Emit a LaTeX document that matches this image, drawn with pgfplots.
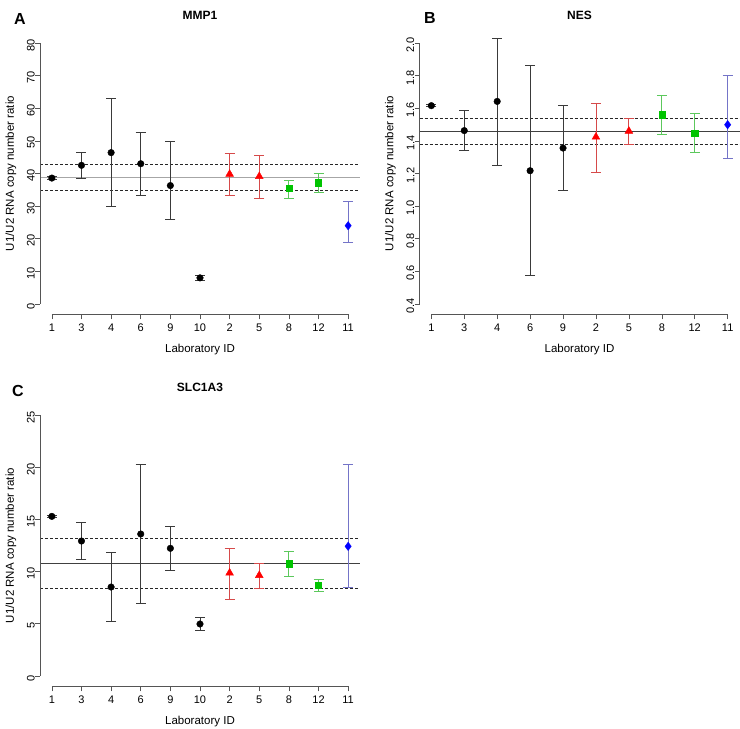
\documentclass[border=0pt]{standalone}
\usepackage{fontspec}
\setmainfont{Liberation Sans}
\usepackage{pgfplots}
\pgfplotsset{compat=1.18}
\definecolor{errblack}{HTML}{3A3A3A}
\definecolor{errred}{HTML}{D64A4A}
\definecolor{errgreen}{HTML}{5CC85C}
\definecolor{errblue}{HTML}{7474C8}
\definecolor{ptgreen}{HTML}{00C400}
\definecolor{axgray}{HTML}{555555}
\pgfplotsset{
  rstyle/.style={
    scale only axis, width=320pt, height=281.8pt,
    axis line style={draw=none},
    clip=false,
    tick align=outside, major tick length=5pt,
    xtick pos=left, ytick pos=left,
    tick style={color=axgray, line width=0.6pt},
    /pgf/number format/assume math mode=true,
    /pgf/number format/use period,
    ticklabel style={font=\fontsize{11}{13}\selectfont},
    yticklabel style={rotate=90, anchor=south, inner sep=0pt, xshift=-2pt},
    xticklabel style={anchor=north, inner sep=0pt, yshift=-4pt},
    every axis y label/.style={at={(axis description cs:0,0.5)}, xshift=-29pt, rotate=90, anchor=center, font=\fontsize{11.5}{13}\selectfont},
    every axis x label/.style={at={(axis description cs:0.5,0)}, yshift=-35.5pt, anchor=center, font=\fontsize{11.5}{13}\selectfont},
    every axis title/.style={at={(axis description cs:0.5,1)}, yshift=17pt, anchor=center, font=\bfseries\fontsize{12}{14}\selectfont},
    ylabel={U1/U2 RNA copy number ratio},
    xlabel={Laboratory ID},
  },
  blackpts/.style={only marks, mark=*, mark size=3.3pt, black,
    error bars/.cd, y dir=both, y explicit,
    error bar style={errblack, line width=0.8pt},
    error mark options={errblack, rotate=90, mark size=5pt, line width=0.8pt}},
  redpts/.style={only marks, mark=triangle*, mark size=4.5pt, red,
    error bars/.cd, y dir=both, y explicit,
    error bar style={errred, line width=0.8pt},
    error mark options={errred, rotate=90, mark size=5pt, line width=0.8pt}},
  greenpts/.style={only marks, mark=square*, mark size=3.1pt, ptgreen,
    error bars/.cd, y dir=both, y explicit,
    error bar style={errgreen, line width=0.8pt},
    error mark options={errgreen, rotate=90, mark size=5pt, line width=0.8pt}},
  bluepts/.style={only marks, mark=diamond*, mark size=4.2pt, blue,
    error bars/.cd, y dir=both, y explicit,
    error bar style={errblue, line width=0.8pt},
    error mark options={errblue, rotate=90, mark size=5pt, line width=0.8pt}},
}
\begin{document}
\begin{tikzpicture}
\useasboundingbox (0,0) rectangle (740pt,729pt);
% ---------------- Panel A ----------------
\begin{axis}[rstyle, at={(40pt,414.6pt)}, anchor=south west,
  xmin=0.6, xmax=11.4, ymin=-3.2, ymax=83.2,
  xtick={1,...,11}, xticklabels={1,3,4,6,9,10,2,5,8,12,11},
  ytick={0,10,...,80}, title={MMP1}]
\addplot[gray!70, line width=1.8pt] coordinates {(0.6,38.8) (11.4,38.8)};
\addplot[black!85, line width=0.6pt, dash pattern=on 3pt off 2pt] coordinates {(0.6,42.9) (11.4,42.9)};
\addplot[black!85, line width=0.6pt, dash pattern=on 3pt off 2pt] coordinates {(0.6,34.9) (11.4,34.9)};
\addplot[blackpts] coordinates {
 (1,38.6) += (0,0.4) -= (0,0.4)
 (2,42.5) += (0,3.9) -= (0,3.9)
 (3,46.4) += (0,16.6) -= (0,16.5)
 (4,43.0) += (0,9.7) -= (0,9.6)
 (5,36.3) += (0,13.5) -= (0,10.3)
 (6,8.0) += (0,0.9) -= (0,0.8)
};
\addplot[redpts] coordinates {
 (7,39.8) += (0,6.4) -= (0,6.4)
 (8,39.1) += (0,6.6) -= (0,6.6)
};
\addplot[greenpts] coordinates {
 (9,35.4) += (0,2.5) -= (0,2.9)
 (10,37.2) += (0,2.8) -= (0,2.9)
};
\addplot[bluepts] coordinates {
 (11,24.0) += (0,7.5) -= (0,5.0)
};
\draw[axgray, line width=0.6pt] (axis cs:0.6,0) -- (axis cs:0.6,80);
\draw[axgray, line width=0.6pt] (axis cs:1,-3.2) -- (axis cs:11,-3.2);
\end{axis}
% ---------------- Panel B ----------------
\begin{axis}[rstyle, at={(419.5pt,414.6pt)}, anchor=south west,
  xmin=0.64, xmax=10.36, ymin=0.336, ymax=2.064,
  xtick={1,...,10}, xticklabels={1,3,4,6,9,2,5,8,12,11},
  ytick={0.4,0.6,0.8,1.0,1.2,1.4,1.6,1.8,2.0},
  yticklabels={0.4,0.6,0.8,1.0,1.2,1.4,1.6,1.8,2.0},
  title={NES}]
\addplot[black!75, line width=0.8pt] coordinates {(0.64,1.460) (10.36,1.460)};
\addplot[black!85, line width=0.6pt, dash pattern=on 3pt off 2pt] coordinates {(0.64,1.540) (10.36,1.540)};
\addplot[black!85, line width=0.6pt, dash pattern=on 3pt off 2pt] coordinates {(0.64,1.381) (10.36,1.381)};
\addplot[blackpts] coordinates {
 (1,1.616) += (0,0.006) -= (0,0.006)
 (2,1.463) += (0,0.126) -= (0,0.119)
 (3,1.642) += (0,0.389) -= (0,0.390)
 (4,1.217) += (0,0.644) -= (0,0.639)
 (5,1.356) += (0,0.264) -= (0,0.257)
};
\addplot[redpts] coordinates {
 (6,1.424) += (0,0.208) -= (0,0.215)
 (7,1.460) += (0,0.080) -= (0,0.081)
};
\addplot[greenpts] coordinates {
 (8,1.561) += (0,0.116) -= (0,0.119)
 (9,1.448) += (0,0.121) -= (0,0.116)
};
\addplot[bluepts] coordinates {
 (10,1.499) += (0,0.303) -= (0,0.204)
};
\draw[axgray, line width=0.6pt] (axis cs:0.64,0.4) -- (axis cs:0.64,2.0);
\draw[axgray, line width=0.6pt] (axis cs:1,0.336) -- (axis cs:10,0.336);
\end{axis}
% ---------------- Panel C ----------------
\begin{axis}[rstyle, at={(40pt,42.6pt)}, anchor=south west,
  xmin=0.6, xmax=11.4, ymin=-1, ymax=26,
  xtick={1,...,11}, xticklabels={1,3,4,6,9,10,2,5,8,12,11},
  ytick={0,5,...,25}, title={SLC1A3}]
\addplot[black!75, line width=0.8pt] coordinates {(0.6,10.76) (11.4,10.76)};
\addplot[black!85, line width=0.6pt, dash pattern=on 3pt off 2pt] coordinates {(0.6,13.22) (11.4,13.22)};
\addplot[black!85, line width=0.6pt, dash pattern=on 3pt off 2pt] coordinates {(0.6,8.40) (11.4,8.40)};
\addplot[blackpts] coordinates {
 (1,15.29) += (0,0.12) -= (0,0.12)
 (2,12.93) += (0,1.76) -= (0,1.76)
 (3,8.52) += (0,3.29) -= (0,3.28)
 (4,13.60) += (0,6.67) -= (0,6.64)
 (5,12.23) += (0,2.11) -= (0,2.11)
 (6,4.98) += (0,0.61) -= (0,0.57)
};
\addplot[redpts] coordinates {
 (7,9.87) += (0,2.33) -= (0,2.53)
 (8,9.64) += (0,1.12) -= (0,1.24)
};
\addplot[greenpts] coordinates {
 (9,10.76) += (0,1.18) -= (0,1.21)
 (10,8.72) += (0,0.54) -= (0,0.58)
};
\addplot[bluepts] coordinates {
 (11,12.42) += (0,7.85) -= (0,3.90)
};
\draw[axgray, line width=0.6pt] (axis cs:0.6,0) -- (axis cs:0.6,25);
\draw[axgray, line width=0.6pt] (axis cs:1,-1) -- (axis cs:11,-1);
\end{axis}
% panel letters
\node[font=\bfseries\fontsize{16}{18}\selectfont] at (20pt,710pt) {A};
\node[font=\bfseries\fontsize{16}{18}\selectfont] at (430pt,711pt) {B};
\node[font=\bfseries\fontsize{16}{18}\selectfont] at (18pt,338pt) {C};
\end{tikzpicture}
\end{document}
